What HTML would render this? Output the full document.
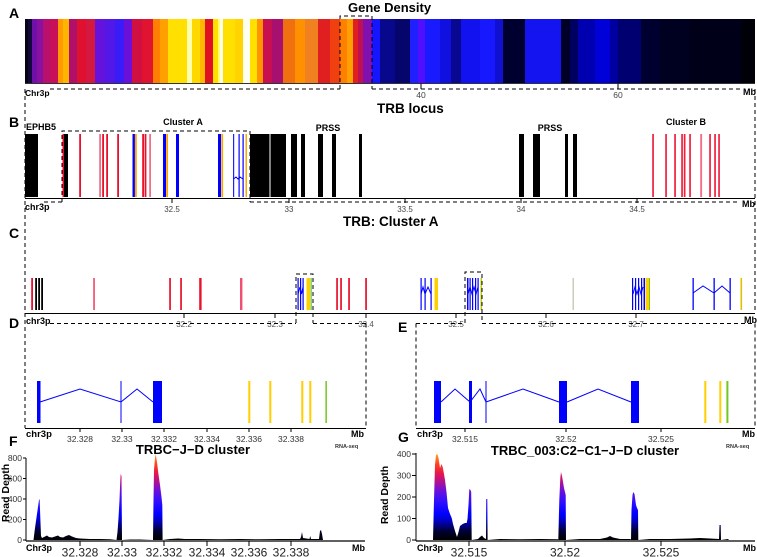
<!DOCTYPE html>
<html><head><meta charset="utf-8"><style>
html,body{margin:0;padding:0;background:#fff;}
svg{display:block;font-family:"Liberation Sans",Arial,sans-serif;}
</style></head><body>
<svg width="757" height="557" viewBox="0 0 757 557" xmlns="http://www.w3.org/2000/svg">
<defs>
<linearGradient id="gd" gradientUnits="userSpaceOnUse" x1="0" y1="540" x2="0" y2="454">
<stop offset="0" stop-color="#000000"/>
<stop offset="0.1" stop-color="#000030"/>
<stop offset="0.22" stop-color="#0000c0"/>
<stop offset="0.3" stop-color="#0000ff"/>
<stop offset="0.45" stop-color="#3010ff"/>
<stop offset="0.58" stop-color="#7010d8"/>
<stop offset="0.7" stop-color="#c01080"/>
<stop offset="0.78" stop-color="#e81848"/>
<stop offset="0.88" stop-color="#ff4020"/>
<stop offset="1" stop-color="#ffa020"/>
</linearGradient>
</defs>
<rect width="757" height="557" fill="#fff"/>

<!-- ===== Panel A ===== -->
<text x="9" y="18" font-size="14" font-weight="bold">A</text>
<text x="348" y="12" font-size="13" font-weight="bold">Gene Density</text>
<g shape-rendering="crispEdges">
<rect x="25" y="19" width="3" height="64" fill="#080418"/>
<rect x="28" y="19" width="4" height="64" fill="#14083a"/>
<rect x="32" y="19" width="5" height="64" fill="#7010a8"/>
<rect x="37" y="19" width="6" height="64" fill="#8a10a0"/>
<rect x="43" y="19" width="7" height="64" fill="#b8106c"/>
<rect x="50" y="19" width="8" height="64" fill="#c8105a"/>
<rect x="58" y="19" width="5" height="64" fill="#ff9a00"/>
<rect x="63" y="19" width="6" height="64" fill="#ffb400"/>
<rect x="69" y="19" width="8" height="64" fill="#b0106a"/>
<rect x="77" y="19" width="9" height="64" fill="#e01030"/>
<rect x="86" y="19" width="9" height="64" fill="#d41840"/>
<rect x="95" y="19" width="10" height="64" fill="#6412dc"/>
<rect x="105" y="19" width="10" height="64" fill="#5218e8"/>
<rect x="115" y="19" width="9" height="64" fill="#3a1cf8"/>
<rect x="124" y="19" width="8" height="64" fill="#6a10d8"/>
<rect x="132" y="19" width="10" height="64" fill="#d01040"/>
<rect x="142" y="19" width="11" height="64" fill="#e01430"/>
<rect x="153" y="19" width="7" height="64" fill="#ff8000"/>
<rect x="160" y="19" width="8" height="64" fill="#ffa000"/>
<rect x="168" y="19" width="19" height="64" fill="#ffe000"/>
<rect x="187" y="19" width="5" height="64" fill="#ffffb0"/>
<rect x="192" y="19" width="8" height="64" fill="#ffd800"/>
<rect x="200" y="19" width="5" height="64" fill="#ffb800"/>
<rect x="205" y="19" width="8" height="64" fill="#e01020"/>
<rect x="213" y="19" width="5" height="64" fill="#ffe000"/>
<rect x="218" y="19" width="2" height="64" fill="#ffff70"/>
<rect x="220" y="19" width="3" height="64" fill="#fffff0"/>
<rect x="223" y="19" width="12" height="64" fill="#ffe000"/>
<rect x="235" y="19" width="8" height="64" fill="#ffd400"/>
<rect x="243" y="19" width="7" height="64" fill="#fffff0"/>
<rect x="250" y="19" width="7" height="64" fill="#ffe000"/>
<rect x="257" y="19" width="6" height="64" fill="#ff9400"/>
<rect x="263" y="19" width="9" height="64" fill="#c81050"/>
<rect x="272" y="19" width="11" height="64" fill="#a81070"/>
<rect x="283" y="19" width="12" height="64" fill="#f07010"/>
<rect x="295" y="19" width="10" height="64" fill="#ff9000"/>
<rect x="305" y="19" width="13" height="64" fill="#f08020"/>
<rect x="318" y="19" width="12" height="64" fill="#e02020"/>
<rect x="330" y="19" width="10" height="64" fill="#f04010"/>
<rect x="340" y="19" width="7" height="64" fill="#ff8000"/>
<rect x="347" y="19" width="6" height="64" fill="#ffa000"/>
<rect x="353" y="19" width="5" height="64" fill="#e02020"/>
<rect x="358" y="19" width="5" height="64" fill="#c01050"/>
<rect x="363" y="19" width="9" height="64" fill="#8010b0"/>
<rect x="372" y="19" width="8" height="64" fill="#1515ff"/>
<rect x="380" y="19" width="15" height="64" fill="#08088c"/>
<rect x="395" y="19" width="15" height="64" fill="#05056c"/>
<rect x="410" y="19" width="8" height="64" fill="#2020ff"/>
<rect x="418" y="19" width="7" height="64" fill="#5010ff"/>
<rect x="425" y="19" width="15" height="64" fill="#1a1aff"/>
<rect x="440" y="19" width="11" height="64" fill="#1010e0"/>
<rect x="451" y="19" width="10" height="64" fill="#080890"/>
<rect x="461" y="19" width="19" height="64" fill="#1212f0"/>
<rect x="480" y="19" width="15" height="64" fill="#1818ff"/>
<rect x="495" y="19" width="8" height="64" fill="#1010d0"/>
<rect x="503" y="19" width="22" height="64" fill="#000030"/>
<rect x="525" y="19" width="36" height="64" fill="#1414f0"/>
<rect x="561" y="19" width="9" height="64" fill="#000028"/>
<rect x="570" y="19" width="8" height="64" fill="#000060"/>
<rect x="578" y="19" width="17" height="64" fill="#0000b0"/>
<rect x="595" y="19" width="15" height="64" fill="#0000d8"/>
<rect x="610" y="19" width="8" height="64" fill="#0000a0"/>
<rect x="618" y="19" width="23" height="64" fill="#000070"/>
<rect x="641" y="19" width="19" height="64" fill="#000030"/>
<rect x="660" y="19" width="30" height="64" fill="#000020"/>
<rect x="690" y="19" width="51" height="64" fill="#000018"/>
<rect x="741" y="19" width="14" height="64" fill="#000008"/>
</g>
<line x1="25" y1="83.5" x2="755" y2="83.5" stroke="#333" stroke-width="1"/>
<line x1="421" y1="83.5" x2="421" y2="89" stroke="#000"/>
<line x1="618" y1="83.5" x2="618" y2="89" stroke="#000"/>
<g stroke="#000" stroke-width="1" stroke-dasharray="4,3" fill="none">
<polyline points="340,89 340,16 372,16 372,89"/>
<line x1="50" y1="89" x2="340" y2="89"/>
<line x1="372" y1="89" x2="742" y2="89"/>
<line x1="25" y1="89" x2="25" y2="428"/>
<line x1="755" y1="89" x2="755" y2="313"/>
</g>
<text x="25" y="96" font-size="8.5" font-weight="bold">Chr3p</text>
<text x="421" y="98" font-size="8.5" fill="#444" text-anchor="middle">40</text>
<text x="618" y="98" font-size="8.5" fill="#444" text-anchor="middle">60</text>
<text x="743" y="95" font-size="9" font-weight="bold">Mb</text>

<!-- ===== Panel B ===== -->
<text x="9" y="127" font-size="14" font-weight="bold">B</text>
<text x="377" y="113" font-size="13.5" font-weight="bold">TRB locus</text>
<text x="26" y="130" font-size="9" font-weight="bold">EPHB5</text>
<text x="183" y="125" font-size="9" font-weight="bold" text-anchor="middle">Cluster A</text>
<text x="328" y="131" font-size="9" font-weight="bold" text-anchor="middle">PRSS</text>
<text x="550" y="131" font-size="9" font-weight="bold" text-anchor="middle">PRSS</text>
<text x="686" y="125" font-size="9" font-weight="bold" text-anchor="middle">Cluster B</text>
<g>
<rect x="25" y="134" width="13" height="63" fill="#000"/>
<rect x="62.5" y="134" width="1.6" height="63" fill="#e8102a"/>
<rect x="64" y="134" width="4" height="63" fill="#000"/>
<rect x="79.2" y="134" width="1.8" height="63" fill="#e8102a"/>
<rect x="99.2" y="134" width="1.8" height="63" fill="#f07088"/>
<rect x="102.2" y="134" width="1.8" height="63" fill="#e8102a"/>
<rect x="106.2" y="134" width="1.8" height="63" fill="#e8102a"/>
<rect x="117.2" y="134" width="1.8" height="63" fill="#e8102a"/>
<rect x="132.5" y="134" width="2.4" height="63" fill="#0000ff"/>
<rect x="135" y="134" width="1.8" height="63" fill="#ffa500"/>
<rect x="142.2" y="134" width="1.8" height="63" fill="#e8102a"/>
<rect x="144.6" y="134" width="1.8" height="63" fill="#e8102a"/>
<rect x="149.2" y="134" width="1.8" height="63" fill="#f07088"/>
<rect x="163" y="134" width="3" height="63" fill="#0000ff"/>
<rect x="166.2" y="134" width="1.8" height="63" fill="#ffa500"/>
<rect x="176" y="134" width="3" height="63" fill="#0000ff"/>
<rect x="218" y="134" width="3" height="63" fill="#0000ff"/>
<rect x="221.3" y="134" width="1.8" height="63" fill="#ffa500"/>
<rect x="233" y="134" width="1.2" height="63" fill="#2020ff"/>
<rect x="238.5" y="134" width="1.2" height="63" fill="#0000ff"/>
<rect x="242.5" y="134" width="1.2" height="63" fill="#0000ff"/>
<rect x="245.5" y="134" width="1.5" height="63" fill="#ffa500"/>
<rect x="250" y="134" width="19.5" height="63" fill="#000"/>
<rect x="270.5" y="134" width="15.5" height="63" fill="#000"/>
<rect x="291" y="134" width="6" height="63" fill="#000"/>
<rect x="301" y="134" width="4" height="63" fill="#000"/>
<rect x="318" y="134" width="5" height="63" fill="#000"/>
<rect x="332" y="134" width="4" height="63" fill="#000"/>
<rect x="359" y="134" width="3" height="63" fill="#000"/>
<rect x="519" y="134" width="5" height="63" fill="#000"/>
<rect x="533" y="134" width="7" height="63" fill="#000"/>
<rect x="565" y="134" width="3" height="63" fill="#000"/>
<rect x="573" y="134" width="4" height="63" fill="#000"/>
<rect x="652.2" y="134" width="1.7" height="63" fill="#f02040"/>
<rect x="665.2" y="134" width="1.7" height="63" fill="#f02040"/>
<rect x="674.2" y="134" width="1.7" height="63" fill="#f02040"/>
<rect x="681.2" y="134" width="1.7" height="63" fill="#f02040"/>
<rect x="683.8" y="134" width="1.7" height="63" fill="#f02040"/>
<rect x="689.2" y="134" width="1.7" height="63" fill="#f02040"/>
<rect x="700.2" y="134" width="1.9" height="63" fill="#f07088"/>
<rect x="709.2" y="134" width="1.7" height="63" fill="#f02040"/>
<rect x="714.2" y="134" width="1.7" height="63" fill="#f02040"/>
<rect x="718.2" y="134" width="1.7" height="63" fill="#f02040"/>
</g>
<polyline points="233.5,179 236,177 238,179 240,177 243,179" fill="none" stroke="#0000ff" stroke-width="1"/>
<line x1="25" y1="198.5" x2="755" y2="198.5" stroke="#000" stroke-width="1"/>
<g stroke="#000" stroke-width="1">
<line x1="172" y1="198.5" x2="172" y2="203"/>
<line x1="289" y1="198.5" x2="289" y2="203"/>
<line x1="405" y1="198.5" x2="405" y2="203"/>
<line x1="521" y1="198.5" x2="521" y2="203"/>
<line x1="637" y1="198.5" x2="637" y2="203"/>
</g>
<g stroke="#000" stroke-width="1" stroke-dasharray="4,3" fill="none">
<polyline points="62,202 62,131 250,131 250,202"/>
<line x1="44" y1="202" x2="62" y2="202"/>
<line x1="250" y1="202" x2="740" y2="202"/>
</g>
<text x="25" y="210" font-size="9" font-weight="bold">chr3p</text>
<g font-size="8" fill="#444" text-anchor="middle">
<text x="172" y="212">32.5</text>
<text x="289" y="212">33</text>
<text x="405" y="212">33.5</text>
<text x="521" y="212">34</text>
<text x="637" y="212">34.5</text>
</g>
<text x="742" y="207" font-size="9" font-weight="bold">Mb</text>

<!-- ===== Panel C ===== -->
<text x="9" y="238" font-size="14" font-weight="bold">C</text>
<text x="343" y="226" font-size="13.5" font-weight="bold">TRB: Cluster A</text>
<g>
<rect x="31.2" y="278" width="1.8" height="32" fill="#e8102a"/>
<rect x="35.2" y="278" width="1.8" height="32" fill="#000"/>
<rect x="38.2" y="278" width="1.8" height="32" fill="#000"/>
<rect x="41.2" y="278" width="1.8" height="32" fill="#000"/>
<rect x="93.2" y="278" width="1.7" height="32" fill="#f05070"/>
<rect x="169.2" y="278" width="1.7" height="32" fill="#e8102a"/>
<rect x="180.2" y="278" width="1.7" height="32" fill="#e8102a"/>
<rect x="199.2" y="278" width="2.4" height="32" fill="#e8102a"/>
<rect x="240" y="278" width="2.4" height="32" fill="#f05070"/>
<rect x="297.5" y="278" width="1.2" height="32" fill="#0000ff"/>
<rect x="300" y="278" width="1.2" height="32" fill="#0000ff"/>
<rect x="302.5" y="278" width="1.2" height="32" fill="#0000ff"/>
<rect x="306.5" y="278" width="3.5" height="32" fill="#ffd000"/>
<rect x="310.5" y="278" width="1.2" height="32" fill="#60c020"/>
<rect x="336.2" y="278" width="1.7" height="32" fill="#e8102a"/>
<rect x="340.2" y="278" width="1.7" height="32" fill="#e8102a"/>
<rect x="348.2" y="278" width="1.7" height="32" fill="#e8102a"/>
<rect x="365.2" y="278" width="1.7" height="32" fill="#e8102a"/>
<rect x="420.5" y="278" width="1.2" height="32" fill="#0000ff"/>
<rect x="424.5" y="278" width="1.2" height="32" fill="#0000ff"/>
<rect x="430.5" y="278" width="1.2" height="32" fill="#0000ff"/>
<rect x="434.5" y="278" width="3.5" height="32" fill="#ffd000"/>
<rect x="467" y="278" width="1.5" height="32" fill="#0000ff"/>
<rect x="469.5" y="278" width="1.2" height="32" fill="#0000ff"/>
<rect x="472" y="278" width="1.2" height="32" fill="#0000ff"/>
<rect x="475" y="278" width="1.2" height="32" fill="#0000ff"/>
<rect x="477.5" y="278" width="1.2" height="32" fill="#0000ff"/>
<rect x="480.5" y="278" width="1.5" height="32" fill="#c0d000"/>
<rect x="572.5" y="278" width="1.4" height="32" fill="#c8c8b8"/>
<rect x="632" y="278" width="1.2" height="32" fill="#0000ff"/>
<rect x="635" y="278" width="1.2" height="32" fill="#0000ff"/>
<rect x="638" y="278" width="1.2" height="32" fill="#0000ff"/>
<rect x="641" y="278" width="1.2" height="32" fill="#0000ff"/>
<rect x="643.5" y="278" width="1.5" height="32" fill="#0000ff"/>
<rect x="645.5" y="278" width="3.5" height="32" fill="#ffd000"/>
<rect x="649" y="278" width="1" height="32" fill="#80c020"/>
<rect x="692.5" y="278" width="1.3" height="32" fill="#0000ff"/>
<rect x="713.5" y="278" width="1.3" height="32" fill="#0000ff"/>
<rect x="729.5" y="278" width="1.3" height="32" fill="#0000ff"/>
<rect x="740.5" y="278" width="1.6" height="32" fill="#e0c000"/>
</g>
<g fill="none" stroke="#0000ff" stroke-width="1">
<polyline points="298,294 300,287 301.5,294 303,287"/>
<polyline points="421,294 423,287 425,294 428,287 431,294"/>
<polyline points="468,294 470,287 472,294 474,287 476,294 478,287"/>
<polyline points="633,294 635,287 637,294 639,287 641,294 643,287"/>
<polyline points="693,293 703,286 714,293 722,286 730,293"/>
</g>
<line x1="25" y1="313.5" x2="755" y2="313.5" stroke="#000" stroke-width="1"/>
<g stroke="#000" stroke-width="1">
<line x1="184" y1="313.5" x2="184" y2="318"/>
<line x1="275" y1="313.5" x2="275" y2="318"/>
<line x1="366" y1="313.5" x2="366" y2="318"/>
<line x1="456" y1="313.5" x2="456" y2="318"/>
<line x1="546" y1="313.5" x2="546" y2="318"/>
<line x1="636" y1="313.5" x2="636" y2="318"/>
</g>
<g font-size="8" fill="#555" text-anchor="middle">
<text x="184" y="327">32.2</text>
<text x="275" y="327">32.3</text>
<text x="366" y="327">32.4</text>
<text x="456" y="327">32.5</text>
<text x="546" y="327">32.6</text>
<text x="636" y="327">32.7</text>
</g>
<g stroke="#000" stroke-width="1" stroke-dasharray="4,3" fill="none">
<polyline points="296,323 296,274 313,274 313,323"/>
<polyline points="465,323 465,272 482,272 482,323"/>
<line x1="50" y1="323.5" x2="296" y2="323.5"/>
<line x1="313" y1="323.5" x2="366" y2="323.5"/>
<line x1="416" y1="323.5" x2="465" y2="323.5"/>
<line x1="482" y1="323.5" x2="755" y2="323.5"/>
<line x1="366" y1="323.5" x2="366" y2="428"/>
<line x1="416" y1="323.5" x2="416" y2="428"/>
<line x1="755" y1="323.5" x2="755" y2="428"/>
</g>
<text x="26" y="324" font-size="9" font-weight="bold">chr3p</text>
<text x="744" y="323" font-size="9" font-weight="bold">Mb</text>

<!-- ===== Panel D ===== -->
<text x="9" y="328" font-size="14" font-weight="bold">D</text>
<g fill="#0000ff" shape-rendering="crispEdges">
<rect x="37" y="381" width="3.5" height="42"/>
<rect x="120.5" y="381" width="1.2" height="42"/>
<rect x="153" y="381" width="9" height="42"/>
</g>
<polyline points="40,402 80,389 121,402 137,389 153,402" fill="none" stroke="#0000ff" stroke-width="1"/>
<g>
<rect x="248.3" y="381" width="2" height="42" fill="#ffd000"/>
<rect x="269.3" y="381" width="2" height="42" fill="#ffd000"/>
<rect x="301.3" y="381" width="2" height="42" fill="#ffd000"/>
<rect x="309.3" y="381" width="2" height="42" fill="#ffd000"/>
<rect x="325.4" y="381" width="1.5" height="42" fill="#70c820"/>
</g>
<line x1="25" y1="428.5" x2="366" y2="428.5" stroke="#000" stroke-width="1"/>
<g stroke="#000" stroke-width="1">
<line x1="80" y1="428.5" x2="80" y2="432"/>
<line x1="122" y1="428.5" x2="122" y2="432"/>
<line x1="164" y1="428.5" x2="164" y2="432"/>
<line x1="207" y1="428.5" x2="207" y2="432"/>
<line x1="249" y1="428.5" x2="249" y2="432"/>
<line x1="291" y1="428.5" x2="291" y2="432"/>
</g>
<text x="26" y="437" font-size="9.5" font-weight="bold">chr3p</text>
<g font-size="8.5" fill="#333" text-anchor="middle">
<text x="80" y="442">32.328</text>
<text x="122" y="442">32.33</text>
<text x="164" y="442">32.332</text>
<text x="207" y="442">32.334</text>
<text x="249" y="442">32.336</text>
<text x="291" y="442">32.338</text>
</g>
<text x="351" y="437" font-size="9" font-weight="bold">Mb</text>
<text x="335" y="448" font-size="5.5" font-weight="bold" fill="#333">RNA-seq</text>

<!-- ===== Panel E ===== -->
<text x="398" y="332" font-size="14" font-weight="bold">E</text>
<g fill="#0000ff" shape-rendering="crispEdges">
<rect x="434" y="381" width="7" height="42"/>
<rect x="469" y="381" width="3" height="42"/>
<rect x="485.5" y="381" width="1.2" height="42"/>
<rect x="559" y="381" width="8" height="42"/>
<rect x="631" y="381" width="8" height="42"/>
</g>
<polyline points="441,402 455,389 470,402 480,389 486,402 523,389 559,402" fill="none" stroke="#0000ff" stroke-width="1"/>
<polyline points="567,402 598,389 631,402" fill="none" stroke="#0000ff" stroke-width="1"/>
<g>
<rect x="704.3" y="381" width="2" height="42" fill="#ffd000"/>
<rect x="719.3" y="381" width="2" height="42" fill="#ffd000"/>
<rect x="726.4" y="381" width="2" height="42" fill="#70c820"/>
</g>
<line x1="416" y1="428.5" x2="755" y2="428.5" stroke="#000" stroke-width="1"/>
<g stroke="#000" stroke-width="1">
<line x1="465" y1="428.5" x2="465" y2="432"/>
<line x1="566" y1="428.5" x2="566" y2="432"/>
<line x1="661" y1="428.5" x2="661" y2="432"/>
</g>
<text x="417" y="437" font-size="9.5" font-weight="bold">chr3p</text>
<g font-size="8.5" fill="#333" text-anchor="middle">
<text x="465" y="442">32.515</text>
<text x="566" y="442">32.52</text>
<text x="661" y="442">32.525</text>
</g>
<text x="742" y="437" font-size="9" font-weight="bold">Mb</text>
<text x="726" y="448" font-size="5.5" font-weight="bold" fill="#333">RNA-seq</text>

<!-- ===== Panel F ===== -->
<text x="9" y="446" font-size="14" font-weight="bold">F</text>
<text x="193" y="454" font-size="13" font-weight="bold" text-anchor="middle">TRBC−J−D cluster</text>
<path fill="url(#gd)" d="M33.5,540 L35,528 L37,514 L39,500 L39.6,499 L40.2,515 L41,536 L42,538 L44,537 L47,535.5 L49,537 L52,537.5 L55,536.5 L58,535.5 L60,537 L63,537.5 L66,536 L69,535 L72,536.5 L76,538 L80,538.5 L90,539 L100,539 L110,539.3 L116.5,540 L117.5,532 L118.5,518 L119.5,500 L120.3,480 L120.7,474 L121.5,476 L122,540 L130,539.5 L140,539.5 L153,540 L153.5,500 L154,470 L155,458 L155.7,454 L157,462 L158.3,473 L160,485 L161.5,497 L162.3,505 L162.6,540 L170,539 L178,538.5 L185,539 L200,539 L220,539.3 L240,539 L260,539.3 L280,539 L300,539 L301,537 L302,532 L303,538 L309.5,539 L310.2,536 L311,539 L319,539 L320,531 L321,530 L322,534 L323,540 Z"/>
<line x1="26" y1="458" x2="26" y2="541" stroke="#000" stroke-width="1"/>
<g stroke="#000" stroke-width="1">
<line x1="23" y1="458" x2="26" y2="458"/>
<line x1="23" y1="478.5" x2="26" y2="478.5"/>
<line x1="23" y1="499" x2="26" y2="499"/>
<line x1="23" y1="519.5" x2="26" y2="519.5"/>
<line x1="23" y1="540" x2="26" y2="540"/>
</g>
<g font-size="8.5" fill="#333" text-anchor="end">
<text x="22" y="461">800</text>
<text x="22" y="481.5">600</text>
<text x="22" y="502">400</text>
<text x="22" y="522.5">200</text>
<text x="22" y="543">0</text>
</g>
<text transform="translate(9,493) rotate(-90)" font-size="10.5" font-weight="bold" text-anchor="middle">Read Depth</text>
<line x1="26" y1="541" x2="365" y2="541" stroke="#000" stroke-width="1.2"/>
<g stroke="#000" stroke-width="1">
<line x1="80" y1="541" x2="80" y2="546"/>
<line x1="122" y1="541" x2="122" y2="546"/>
<line x1="164" y1="541" x2="164" y2="546"/>
<line x1="207" y1="541" x2="207" y2="546"/>
<line x1="249" y1="541" x2="249" y2="546"/>
<line x1="291" y1="541" x2="291" y2="546"/>
</g>
<text x="26" y="551" font-size="9" font-weight="bold">Chr3p</text>
<g font-size="12" fill="#222" text-anchor="middle">
<text x="80" y="556.5">32.328</text>
<text x="122" y="556.5">32.33</text>
<text x="164" y="556.5">32.332</text>
<text x="207" y="556.5">32.334</text>
<text x="249" y="556.5">32.336</text>
<text x="291" y="556.5">32.338</text>
</g>
<text x="352" y="551" font-size="9" font-weight="bold">Mb</text>

<!-- ===== Panel G ===== -->
<text x="398" y="442" font-size="14" font-weight="bold">G</text>
<text x="585" y="455" font-size="13" font-weight="bold" text-anchor="middle">TRBC_003:C2−C1−J−D cluster</text>
<path fill="url(#gd)" d="M433,540 L434,500 L435,465 L436,455 L437.3,454 L438.5,458 L440,468 L441.5,464 L442.7,467 L444,474 L445,480 L446.5,492 L448,508 L450,514 L451.7,518 L453,524 L455,531 L457,537 L458.5,532 L460,526 L462.7,524 L465,523 L466.7,523 L467.5,519 L468.5,505 L469.3,489 L470.5,490 L471.2,492 L471.7,540 L478,539 L480,537 L482,535.5 L484,538 L486,539 L486.2,499 L487.3,499 L487.6,540 L500,539 L520,539.3 L540,539 L558,539.3 L558.3,540 L559.3,500 L560.3,478 L561,472 L562,476 L562.7,480 L564,488 L565,492 L565.7,495 L566,540 L580,539 L600,539 L607,537.5 L610,536 L613,537.5 L620,539 L630.5,539 L631,540 L631.5,510 L632.5,495 L633.3,492 L634.5,494 L636,505 L637,508 L638,510 L638.3,540 L650,539 L670,539 L690,538.5 L700,538 L710,538.5 L719,539 L719.5,525 L720.7,525 L721,540 L728,539 L729,540 Z"/>
<line x1="416" y1="453" x2="416" y2="541" stroke="#000" stroke-width="1"/>
<g stroke="#000" stroke-width="1">
<line x1="412" y1="454" x2="416" y2="454"/>
<line x1="412" y1="475.5" x2="416" y2="475.5"/>
<line x1="412" y1="497" x2="416" y2="497"/>
<line x1="412" y1="518.5" x2="416" y2="518.5"/>
<line x1="412" y1="540" x2="416" y2="540"/>
</g>
<g font-size="8.5" fill="#333" text-anchor="end">
<text x="411" y="457">400</text>
<text x="411" y="478.5">300</text>
<text x="411" y="500">200</text>
<text x="411" y="521.5">100</text>
<text x="411" y="543">0</text>
</g>
<text transform="translate(388,495) rotate(-90)" font-size="10.5" font-weight="bold" text-anchor="middle">Read Depth</text>
<line x1="416" y1="541" x2="755" y2="541" stroke="#000" stroke-width="1.2"/>
<g stroke="#000" stroke-width="1">
<line x1="469" y1="541" x2="469" y2="546"/>
<line x1="565" y1="541" x2="565" y2="546"/>
<line x1="661" y1="541" x2="661" y2="546"/>
</g>
<text x="417" y="551" font-size="9" font-weight="bold">Chr3p</text>
<g font-size="12" fill="#222" text-anchor="middle">
<text x="469" y="556.5">32.515</text>
<text x="565" y="556.5">32.52</text>
<text x="661" y="556.5">32.525</text>
</g>
<text x="743" y="551" font-size="9" font-weight="bold">Mb</text>
</svg>
</body></html>
